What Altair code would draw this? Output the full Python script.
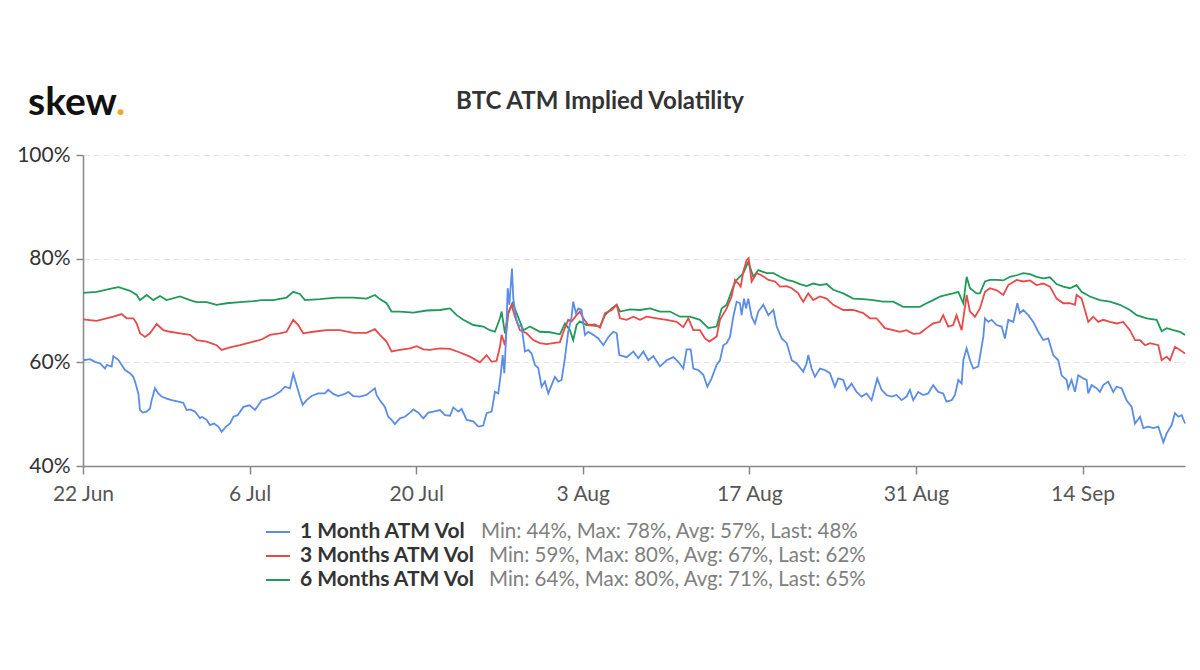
import altair as alt
import pandas as pd

# ---------------- data ----------------
START = "2020-06-22"

m1_days = [0.00, 0.59, 1.01, 1.43, 1.85, 2.02, 2.41, 2.55, 3.00, 3.25, 3.53, 3.95, 4.23, 4.37, 4.65, 4.79,
           5.02, 5.35, 5.63, 5.77, 6.05, 6.33, 6.61, 7.03, 7.45, 8.01, 8.43, 8.71, 8.99, 9.41, 9.83, 10.00,
           10.39, 10.67, 11.01, 11.37, 11.65, 12.02, 12.36, 12.64, 13.00, 13.48, 14.01, 14.46, 15.01, 15.43,
           15.99, 16.55, 16.97, 17.39, 17.67, 17.95, 18.23, 18.46, 18.79, 19.21, 19.77, 20.33, 20.61, 21.03,
           21.45, 22.01, 22.29, 22.71, 23.27, 23.83, 24.25, 24.53, 24.67, 24.95, 25.37, 25.65, 25.93, 26.21,
           26.63, 27.05, 27.48, 27.76, 28.18, 28.60, 29.02, 29.44, 30.00, 30.42, 30.84, 31.12, 31.54, 31.82,
           32.24, 32.80, 33.22, 33.64, 33.92, 34.34, 34.62, 34.90, 35.10, 35.27, 35.41, 35.55, 35.69, 35.83,
           35.94, 36.05, 36.16, 36.39, 36.58, 36.86, 37.14, 37.42, 37.70, 37.98, 38.26, 38.54, 38.82, 39.10,
           39.38, 39.66, 39.94, 40.22, 40.50, 40.78, 41.06, 41.20, 41.43, 41.62, 41.90, 42.18, 42.46, 42.89,
           43.31, 43.73, 44.15, 44.57, 44.85, 45.07, 45.69, 46.25, 46.67, 47.09, 47.51, 47.93, 48.49, 49.05,
           49.61, 50.03, 50.45, 50.73, 51.07, 51.29, 51.71, 52.13, 52.47, 52.83, 53.25, 53.53, 53.81, 54.09,
           54.37, 54.65, 54.93, 55.21, 55.35, 55.55, 55.72, 55.91, 56.19, 56.47, 56.75, 57.17, 57.60, 58.02,
           58.30, 58.72, 59.14, 59.56, 59.98, 60.25, 60.53, 60.81, 60.95, 61.23, 61.51, 61.93, 62.35, 62.77,
           63.19, 63.47, 63.89, 64.17, 64.59, 65.01, 65.43, 65.85, 66.27, 66.75, 67.11, 67.53, 67.95, 68.37,
           68.79, 69.21, 69.49, 69.77, 70.19, 70.61, 71.03, 71.45, 71.87, 72.29, 72.57, 73.00, 73.28, 73.56,
           73.84, 73.98, 74.26, 74.54, 74.82, 75.24, 75.66, 75.80, 76.08, 76.36, 76.78, 77.20, 77.48, 77.76,
           78.18, 78.52, 78.74, 79.02, 79.44, 79.86, 80.28, 80.70, 81.12, 81.54, 81.96, 82.24, 82.66, 82.80,
           83.08, 83.36, 83.64, 84.06, 84.34, 84.48, 84.76, 85.18, 85.46, 85.74, 86.16, 86.58, 86.86, 87.28,
           87.70, 88.13, 88.41, 88.83, 89.11, 89.53, 89.95, 90.37, 90.79, 91.07, 91.49, 91.77, 92.05, 92.33,
           92.61]
m1_vals = [60.4, 60.6, 60.1, 59.8, 58.8, 59.5, 59.2, 61.2, 60.4, 59.5, 58.5, 57.9, 57.2, 56.3, 54.0, 50.8,
           50.3, 50.5, 51.1, 52.7, 55.0, 54.0, 53.4, 53.0, 52.7, 52.4, 52.2, 50.8, 50.9, 50.5, 49.2, 49.5,
           48.9, 47.9, 48.2, 47.6, 46.6, 47.6, 48.2, 49.5, 49.8, 51.4, 51.7, 50.8, 52.7, 53.0,
           53.5, 54.3, 55.3, 55.0, 57.8, 55.6, 53.4, 51.8, 52.7, 53.5, 54.0, 54.0, 54.7, 53.9,
           53.5, 53.9, 54.3, 53.5, 53.4, 53.7, 54.5, 55.0, 53.7, 52.7, 51.4, 49.5, 48.9, 48.1,
           49.2, 49.5, 50.3, 50.9, 50.3, 49.2, 50.3, 50.5, 50.8, 49.8, 49.7, 51.3, 50.5, 51.0,
           48.9, 48.6, 47.6, 47.8, 50.2, 50.5, 54.3, 54.0, 57.6, 61.4, 57.9, 64.6, 74.3, 71.1,
           74.6, 78.1, 72.4, 68.5, 67.2, 66.9, 62.1, 62.4, 61.7, 59.5, 58.9, 55.3, 56.3, 54.0,
           55.6, 57.2, 56.3, 56.6, 60.8, 65.9, 68.8, 71.7, 69.5, 70.4, 70.1, 65.3, 65.9, 65.3,
           64.6, 63.3, 64.9, 65.9, 65.6, 61.4, 61.0, 62.1, 60.8, 62.1, 60.4, 61.2, 59.2, 60.4,
           61.0, 60.1, 58.8, 62.5, 62.5, 58.8, 58.5, 57.6, 55.3, 56.9, 59.5, 60.4, 63.3, 63.7,
           64.9, 68.8, 71.7, 71.4, 69.1, 72.3, 70.4, 72.3, 68.8, 67.5, 69.8, 71.1, 69.1, 70.1,
           66.9, 64.6, 63.7, 60.4, 59.8, 59.0, 58.2, 59.8, 61.4, 58.8, 57.2, 58.8, 58.5, 57.9,
           55.3, 56.9, 56.6, 54.7, 55.9, 54.3, 53.4, 54.0, 52.7, 56.9, 54.7, 53.7, 53.4, 53.7,
           52.7, 53.4, 54.7, 52.7, 54.3, 53.7, 54.0, 55.6, 54.3, 54.0, 52.4, 52.7, 53.7, 56.6,
           55.9, 60.4, 62.7, 60.4, 58.8, 59.2, 64.9, 68.5, 67.8, 68.2, 67.2, 66.9, 64.6, 68.2,
           67.8, 71.4, 69.5, 70.1, 69.1, 67.8, 65.9, 64.3, 64.6, 61.4, 60.4, 57.5, 56.6, 55.0,
           56.6, 54.3, 57.5, 56.9, 56.6, 54.0, 55.6, 55.0, 54.3, 55.6, 56.3, 54.3, 55.3, 55.0,
           52.7, 51.4, 48.2, 49.5, 47.3, 47.6, 47.3, 47.6, 44.6, 46.3, 47.9, 50.2, 49.5, 49.8,
           48.2]

m3_days = [0.00, 1.15, 2.55, 3.25, 3.67, 4.23, 4.51, 4.79, 5.21, 5.63, 6.19, 6.75, 7.31, 8.15, 8.99, 9.55,
           10.39, 11.23, 11.65, 12.36, 13.20, 14.32, 15.01, 15.71, 16.55, 17.11, 17.67, 18.09, 18.51, 19.35,
           20.47, 21.59, 22.71, 23.83, 24.53, 24.95, 25.51, 25.93, 26.63, 27.48, 28.04, 28.60, 29.16, 30.00,
           30.84, 31.68, 32.52, 33.36, 33.92, 34.34, 34.76, 35.04, 35.18, 35.46, 35.74, 36.02, 36.30, 36.72,
           37.28, 37.84, 38.40, 38.96, 39.52, 40.08, 40.42, 40.78, 41.06, 41.48, 41.76, 42.04, 42.46, 43.03,
           43.45, 43.87, 44.43, 44.85, 45.13, 45.69, 46.25, 46.81, 47.37, 48.21, 49.05, 49.89, 50.45, 50.87,
           51.29, 51.85, 52.27, 52.64, 53.25, 53.53, 54.09, 54.51, 54.79, 55.07, 55.27, 55.49, 55.77, 55.94,
           56.19, 56.61, 57.03, 57.60, 58.16, 58.58, 59.14, 59.56, 60.12, 60.25, 60.53, 60.95, 61.37, 61.93,
           62.49, 63.05, 63.89, 64.73, 65.57, 66.13, 66.69, 67.39, 68.09, 68.65, 69.21, 69.77, 70.33, 70.89,
           71.45, 72.01, 72.29, 72.71, 73.13, 73.41, 73.84, 74.12, 74.26, 74.54, 74.96, 75.38, 75.80, 76.22,
           76.78, 77.34, 77.76, 78.46, 79.02, 79.58, 80.14, 80.70, 81.26, 81.82, 82.38, 82.94, 83.36, 83.50,
           83.92, 84.20, 84.48, 84.90, 85.32, 85.74, 86.30, 86.86, 87.42, 87.98, 88.41, 88.83, 89.25, 89.67,
           90.37, 90.65, 91.07, 91.35, 91.77, 92.19, 92.61]
m3_vals = [68.3, 68.0, 68.8, 69.3, 68.5, 68.5, 67.5, 65.6, 64.9, 65.6, 67.4, 66.2, 65.9, 65.6, 65.3, 64.3,
           64.0, 63.3, 62.4, 62.9, 63.3, 64.0, 64.4, 65.3, 65.6, 65.9, 68.2, 67.2, 65.6, 65.9,
           66.2, 66.2, 65.7, 65.7, 66.4, 65.3, 64.0, 62.1, 62.4, 62.7, 63.1, 62.5, 62.4, 62.7,
           62.6, 61.9, 61.1, 60.0, 61.4, 60.1, 60.3, 63.0, 65.3, 63.3, 69.5, 71.1, 68.8, 66.2,
           65.6, 64.3, 63.7, 63.5, 63.7, 63.9, 66.2, 68.2, 67.9, 69.1, 69.8, 68.5, 67.2, 67.3,
           66.7, 69.5, 70.1, 71.1, 68.5, 68.2, 68.8, 68.2, 68.8, 68.5, 68.2, 67.8, 66.8, 68.5,
           66.2, 66.2, 64.6, 64.0, 65.0, 68.2, 70.4, 72.7, 75.9, 75.2, 74.6, 77.5, 79.7, 80.1,
           75.6, 77.2, 76.8, 75.9, 75.6, 74.6, 74.7, 74.3, 73.3, 72.7, 71.7, 73.3, 72.0, 72.7,
           72.3, 71.1, 70.1, 70.1, 69.5, 68.5, 68.5, 66.6, 66.2, 65.9, 66.2, 65.5, 65.6, 66.6,
           67.5, 67.8, 69.1, 66.9, 67.2, 69.1, 66.2, 70.7, 73.0, 69.8, 68.8, 70.4, 73.6, 74.3,
           73.9, 73.0, 74.9, 75.9, 75.6, 75.8, 74.9, 75.2, 74.6, 72.3, 71.4, 71.4, 71.1, 73.0,
           72.3, 70.1, 67.8, 68.8, 67.8, 68.2, 67.8, 67.5, 67.8, 66.2, 64.3, 64.3, 63.3, 63.7,
           63.3, 60.4, 61.1, 60.4, 63.0, 62.4, 61.7]

m6_days = [0.00, 1.15, 2.55, 3.00, 3.95, 4.51, 4.79, 5.35, 5.91, 6.47, 7.03, 8.15, 8.99, 9.55, 10.39, 11.23,
           12.07, 13.20, 14.32, 15.01, 15.99, 17.11, 17.67, 18.23, 18.65, 19.91, 21.31, 22.71, 23.83, 24.53,
           24.95, 25.51, 25.93, 26.63, 27.76, 28.88, 30.00, 30.84, 31.40, 31.96, 32.80, 33.64, 34.20, 34.62,
           35.04, 35.18, 35.46, 35.74, 36.11, 36.44, 37.00, 37.56, 38.40, 39.24, 40.08, 40.50, 40.92, 41.20,
           41.48, 41.76, 42.32, 42.89, 43.45, 43.87, 44.43, 44.85, 45.13, 45.97, 46.81, 47.65, 48.49, 49.33,
           50.17, 51.01, 51.85, 52.55, 53.25, 53.67, 54.09, 54.65, 54.93, 55.49, 55.91, 56.33, 56.75, 57.45,
           58.02, 58.58, 59.14, 59.70, 60.25, 60.81, 61.37, 61.93, 62.49, 63.05, 63.89, 64.73, 65.57, 66.41,
           67.25, 68.09, 68.93, 69.77, 70.33, 70.89, 71.45, 72.01, 72.57, 73.13, 73.56, 73.98, 74.26, 74.54,
           75.10, 75.38, 75.80, 76.22, 76.78, 77.34, 77.90, 78.46, 79.02, 79.58, 80.14, 80.70, 81.26, 81.82,
           82.38, 82.94, 83.50, 83.92, 84.62, 85.46, 86.30, 87.14, 87.98, 88.55, 89.39, 90.23, 90.65, 91.07,
           91.63, 92.19, 92.61]
m6_vals = [73.4, 73.6, 74.3, 74.5, 73.8, 73.0, 72.0, 73.0, 72.0, 72.8, 72.0, 72.7, 72.0, 71.6, 71.6, 71.1,
           71.4, 71.6, 71.8, 72.0, 72.0, 72.5, 73.6, 73.2, 72.0, 72.2, 72.5, 72.5, 72.3, 73.0,
           72.2, 71.4, 69.8, 69.8, 69.6, 70.0, 70.1, 70.4, 69.1, 68.2, 67.2, 66.9, 66.2, 65.9,
           68.5, 69.8, 65.6, 69.5, 71.4, 69.5, 66.2, 66.9, 65.9, 65.8, 65.4, 67.5, 66.2, 64.3,
           67.2, 67.9, 67.2, 67.1, 66.9, 69.1, 70.4, 71.1, 69.8, 70.2, 70.1, 70.4, 69.8, 69.8,
           68.8, 68.8, 68.2, 66.6, 66.9, 70.4, 71.1, 74.6, 75.9, 77.2, 79.4, 76.5, 77.8, 77.2,
           77.2, 76.5, 75.9, 75.6, 75.1, 74.7, 75.2, 74.9, 75.1, 74.0, 73.3, 72.3, 72.2, 72.0,
           71.7, 71.7, 70.7, 70.7, 70.7, 71.4, 72.0, 72.7, 73.0, 73.3, 73.6, 71.4, 76.5, 74.3,
           73.3, 73.3, 75.6, 75.9, 75.9, 75.8, 76.5, 76.8, 77.2, 77.0, 76.5, 76.2, 76.4, 75.1,
           74.6, 74.3, 74.9, 73.6, 72.7, 72.0, 71.7, 71.1, 70.1, 69.1, 68.5, 68.2, 66.0, 66.6,
           66.2, 65.9, 65.3]

series_names = ["1 Month ATM Vol", "3 Months ATM Vol", "6 Months ATM Vol"]
series_stats = ["Min: 44%, Max: 78%, Avg: 57%, Last: 48%",
                "Min: 59%, Max: 80%, Avg: 67%, Last: 62%",
                "Min: 64%, Max: 80%, Avg: 71%, Last: 65%"]
series_colors = ["#5b8de6", "#e84a4a", "#21995a"]

x_tick_dates = ["2020-06-22", "2020-07-06", "2020-07-20", "2020-08-03",
                "2020-08-17", "2020-08-31", "2020-09-14"]
y_ticks = [40, 60, 80, 100]

TITLE = "BTC ATM Implied Volatility"


# ---------------- build ----------------
def frame(days, vals):
    t = pd.Timestamp(START, tz="UTC") + pd.to_timedelta(days, unit="D")
    return pd.DataFrame({"t": t.strftime("%Y-%m-%dT%H:%M:%SZ"), "v": vals})


def dt(s, hours=0, minutes=0):
    y, m, d = (int(p) for p in s.split("-"))
    return alt.DateTime(year=y, month=m, date=d, hours=hours, minutes=minutes, utc=True)


W, H = 1102, 311

x_enc = alt.X(
    "t:T",
    scale=alt.Scale(type="utc", domain=[dt("2020-06-22"), dt("2020-09-22", 14, 40)]),
    axis=alt.Axis(values=[dt(s) for s in x_tick_dates], format="%-d %b", title=None,
                  labelFontSize=21, labelColor="#555555", labelPadding=9,
                  tickSize=8, tickColor="#888888", tickWidth=1.5,
                  domainColor="#888888", domainWidth=1.5, grid=False, labelFlush=False),
)
y_enc = alt.Y(
    "v:Q",
    scale=alt.Scale(domain=[40, 100], nice=False, zero=False),
    axis=alt.Axis(values=y_ticks, labelExpr="datum.value + '%'", title=None,
                  labelFontSize=21, labelColor="#333333", labelPadding=6,
                  tickSize=7, tickColor="#888888", tickWidth=1.5,
                  domainColor="#888888", domainWidth=1.5,
                  grid=True, gridColor="#e3e3e3", gridDash=[6, 4], gridWidth=1),
)

frames = [frame(m1_days, m1_vals), frame(m3_days, m3_vals), frame(m6_days, m6_vals)]

layers = []
# draw 6M first, then 3M, then 1M on top
for i in [2, 1, 0]:
    layers.append(
        alt.Chart(frames[i]).mark_line(color=series_colors[i], strokeWidth=1.8, interpolate="linear")
        .encode(x=x_enc, y=y_enc)
    )

one = pd.DataFrame({"k": [0]})

# title & logo
layers.append(alt.Chart(pd.DataFrame({"s": [TITLE]})).mark_text(
    fontSize=24, fontWeight="bold", color="#333333", align="center", baseline="middle")
    .encode(x=alt.value(517), y=alt.value(-53), text="s:N"))
layers.append(alt.Chart(pd.DataFrame({"s": ["skew"]})).mark_text(
    fontSize=39, fontWeight="bold", color="#111111", align="left", baseline="alphabetic")
    .encode(x=alt.value(-55), y=alt.value(-40), text="s:N"))
layers.append(alt.Chart(pd.DataFrame({"s": ["."]})).mark_text(
    fontSize=39, fontWeight="bold", color="#f0a830", align="left", baseline="alphabetic")
    .encode(x=alt.value(33), y=alt.value(-40), text="s:N"))

# legend
row_y = [377, 401, 425]
stats_x = [398, 406, 406]
for i in range(3):
    layers.append(alt.Chart(one).mark_rule(color=series_colors[i], strokeWidth=2)
                  .encode(x=alt.value(183), x2=alt.value(207), y=alt.value(row_y[i])))
    layers.append(alt.Chart(pd.DataFrame({"s": [series_names[i]]})).mark_text(
        fontSize=21, fontWeight="bold", color="#333333", align="left", baseline="middle")
        .encode(x=alt.value(217), y=alt.value(row_y[i]), text="s:N"))
    layers.append(alt.Chart(pd.DataFrame({"s": [series_stats[i]]})).mark_text(
        fontSize=20.5, color="#808080", align="left", baseline="middle")
        .encode(x=alt.value(stats_x[i]), y=alt.value(row_y[i]), text="s:N"))

chart = alt.layer(*layers).properties(
    width=W, height=H,
    autosize=alt.AutoSizeParams(type="none"),
    padding={"left": 75, "top": 147, "right": 7, "bottom": 190},
    background="white",
).configure(font="Lato").configure_view(stroke=None)

chart.save("out.html", embed_options={"renderer": "svg", "actions": False})
